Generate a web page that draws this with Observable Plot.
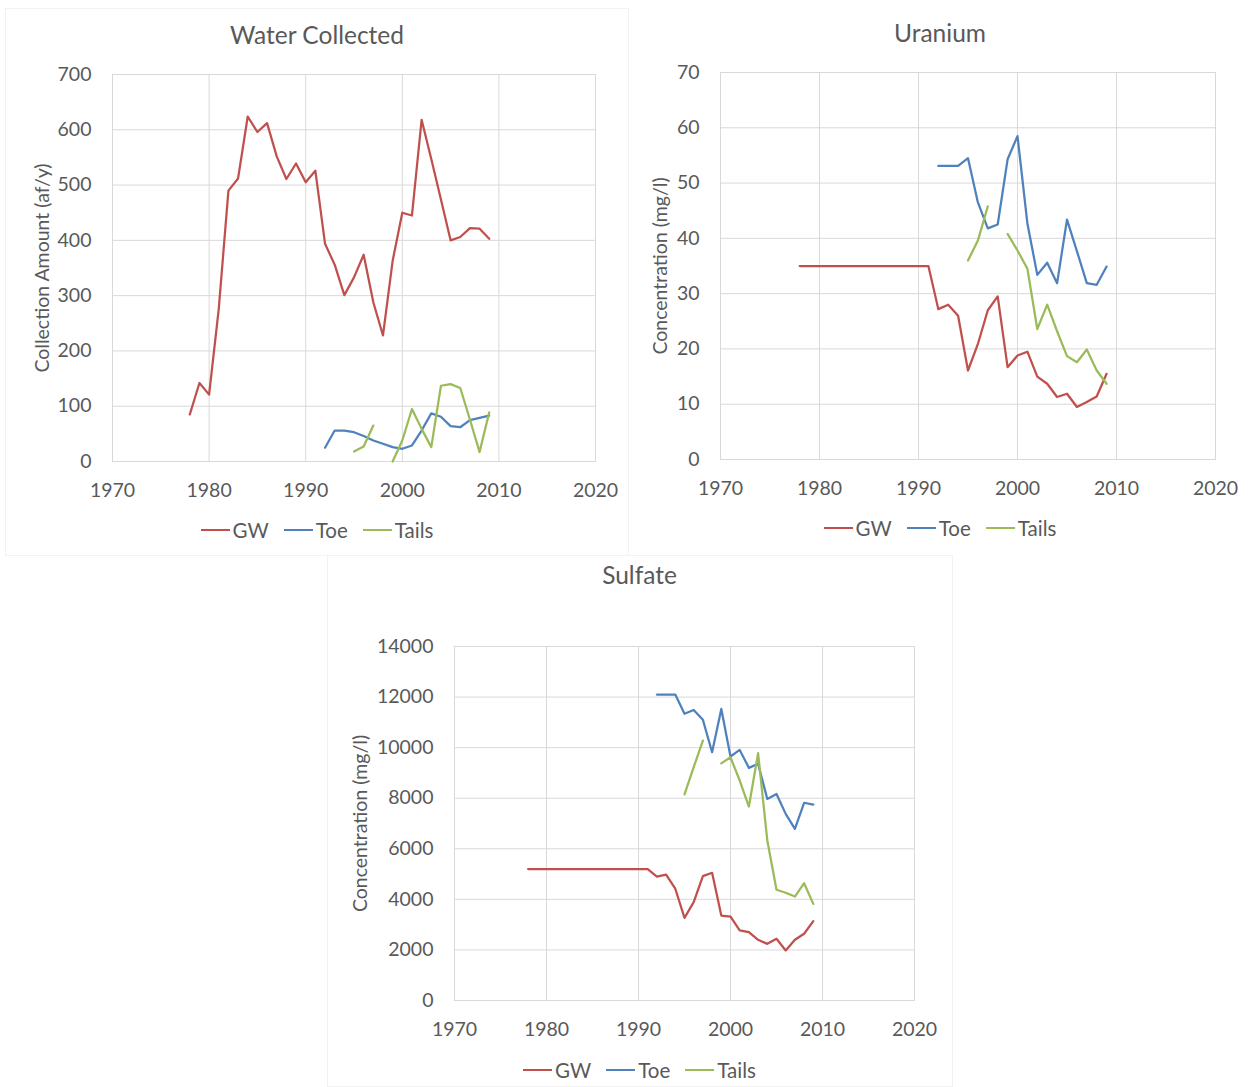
<!DOCTYPE html>
<html>
<head>
<meta charset="utf-8">
<script src="https://cdn.jsdelivr.net/npm/d3@7"></script>
<script src="https://cdn.jsdelivr.net/npm/@observablehq/plot@0.6"></script>
<style>
  html, body { margin: 0; padding: 0; background: #ffffff; }
  body { width: 1249px; height: 1087px; position: relative; overflow: hidden; font-family: Lato, "Open Sans", sans-serif; color: #595959; }
  .panel { position: absolute; }
  .border { position: absolute; border: 1px solid #f2f2f2; box-sizing: border-box; }
  .title { position: absolute; left: 0; right: 0; text-align: center; font-size: 24.5px; height: 40px; line-height: 40px; }
  .chart { position: absolute; left: 0; }
  .legend { position: absolute; left: 0; right: 0; display: flex; justify-content: center; align-items: center; font-size: 20.5px; height: 40px; }
  .legend .item { display: flex; align-items: center; margin: 0 7.5px; }
  .legend .swatch { width: 29px; height: 2.25px; margin-right: 3px; }
</style>
</head>
<body>
<div class="border" style="left:5px;top:8px;width:624px;height:548px;"></div>
<div class="border" style="left:327px;top:555px;width:626px;height:532px;"></div>
<div id="root"></div>
<script>
// ---------- data ----------
const years = [1978,1979,1980,1981,1982,1983,1984,1985,1986,1987,1988,1989,1990,1991,1992,1993,1994,1995,1996,1997,1998,1999,2000,2001,2002,2003,2004,2005,2006,2007,2008,2009];
const seriesNames = ["GW", "Toe", "Tails"];
const seriesColors = ["#C0504D", "#4F81BD", "#9BBB59"];
const xTicks = [1970, 1980, 1990, 2000, 2010, 2020];

// Water Collected (af/y)
const waterGW    = [85,142,121,276,490,512,624,596,612,552,511,539,505,526,394,356,301,333,374,288,228,363,450,445,618,547,474,400,406,422,421,403];
const waterToe   = [null,null,null,null,null,null,null,null,null,null,null,null,null,null,25,56,56,53,46,38,32,26,23,29,56,87,81,64,62,75,79,83];
const waterTails = [null,null,null,null,null,null,null,null,null,null,null,null,null,null,null,null,null,18,27,65,null,0,38,95,59,26,137,140,133,76,17,89];
const waterTicks = [0,100,200,300,400,500,600,700];

// Uranium (mg/l)
const uranGW    = [35,35,35,35,35,35,35,35,35,35,35,35,35,35,27.2,28,26,16.1,20.9,27,29.5,16.7,18.8,19.5,15,13.7,11.3,11.9,9.5,10.4,11.4,15.5];
const uranToe   = [null,null,null,null,null,null,null,null,null,null,null,null,null,null,53.1,53.1,53.1,54.5,46.5,41.8,42.5,54.3,58.5,42.7,33.4,35.6,31.9,43.4,37.7,31.9,31.6,34.9];
const uranTails = [null,null,null,null,null,null,null,null,null,null,null,null,null,null,null,null,null,36,39.6,45.8,null,40.8,37.8,34.5,23.6,28,23.2,18.7,17.6,19.9,16.1,13.7];
const uranTicks = [0,10,20,30,40,50,60,70];

// Sulfate (mg/l)
const sulfGW    = [5200,5200,5200,5200,5200,5200,5200,5200,5200,5200,5200,5200,5200,5200,4900,4980,4420,3270,3890,4920,5050,3360,3320,2770,2700,2400,2240,2440,1980,2400,2640,3140];
const sulfToe   = [null,null,null,null,null,null,null,null,null,null,null,null,null,null,12100,12100,12100,11340,11490,11100,9820,11530,9650,9910,9200,9360,7970,8170,7380,6790,7820,7750];
const sulfTails = [null,null,null,null,null,null,null,null,null,null,null,null,null,null,null,null,null,8150,9230,10280,null,9380,9620,8700,7670,9780,6330,4380,4260,4110,4640,3820];
const sulfTicks = [0,2000,4000,6000,8000,10000,12000,14000];

// ---------- drawing ----------
function toRows(gw, toe, tails) {
  const rows = [];
  const cols = [gw, toe, tails];
  cols.forEach((arr, s) => {
    years.forEach((yr, i) => rows.push({year: yr, series: seriesNames[s], value: arr[i]}));
  });
  return rows;
}

function makePanel(cfg) {
  const panel = document.createElement("div");
  panel.className = "panel";
  panel.style.left = cfg.left + "px";
  panel.style.top = cfg.top + "px";
  panel.style.width = cfg.width + "px";
  panel.style.height = (cfg.legendTop + 40) + "px";

  const t = document.createElement("div");
  t.className = "title";
  t.style.top = cfg.titleTop + "px";
  t.textContent = cfg.title;
  panel.appendChild(t);

  const data = toRows(cfg.gw, cfg.toe, cfg.tails);
  const chart = Plot.plot({
    width: cfg.width,
    height: cfg.height,
    marginLeft: cfg.ml, marginRight: cfg.mr, marginTop: cfg.mt, marginBottom: cfg.mb,
    style: {fontFamily: "Lato, 'Open Sans', sans-serif", fontSize: "19.5px", color: "#595959", background: "transparent", overflow: "visible"},
    x: {domain: [1970, 2020], ticks: xTicks, tickFormat: "d", tickSize: 0, tickPadding: 22, label: null},
    y: {domain: [cfg.yTicks[0], cfg.yTicks[cfg.yTicks.length - 1]], ticks: cfg.yTicks, tickFormat: "d", tickSize: 0, tickPadding: 21,
        label: cfg.yLabel, labelAnchor: "center", labelArrow: "none", labelOffset: cfg.labelOffset},
    color: {domain: seriesNames, range: seriesColors},
    marks: [
      Plot.gridX(xTicks, {stroke: "#d9d9d9", strokeOpacity: 1, strokeWidth: 1}),
      Plot.gridY(cfg.yTicks, {stroke: "#d9d9d9", strokeOpacity: 1, strokeWidth: 1}),
      Plot.frame({stroke: "#d9d9d9", strokeWidth: 1}),
      Plot.lineY(data, {x: "year", y: "value", z: "series", stroke: "series", strokeWidth: 2.25, strokeLinejoin: "round"})
    ]
  });
  chart.classList.add("chart");
  chart.style.position = "absolute";
  chart.style.top = cfg.chartTop + "px";
  chart.style.left = "0px";
  panel.appendChild(chart);

  const lg = document.createElement("div");
  lg.className = "legend";
  lg.style.top = cfg.legendTop + "px";
  seriesNames.forEach((name, i) => {
    const it = document.createElement("div");
    it.className = "item";
    const sw = document.createElement("span");
    sw.className = "swatch";
    sw.style.background = seriesColors[i];
    const tx = document.createElement("span");
    tx.textContent = name;
    it.appendChild(sw); it.appendChild(tx);
    lg.appendChild(it);
  });
  panel.appendChild(lg);
  document.getElementById("root").appendChild(panel);
}

// Water Collected: plot area x 112-595, y 74-461
makePanel({
  title: "Water Collected", yLabel: "Collection Amount (af/y)",
  left: 4, top: 0, width: 626, titleTop: 15, chartTop: 55, height: 455,
  ml: 108, mr: 35, mt: 19, mb: 49, labelOffset: 77, legendTop: 510,
  yTicks: waterTicks, gw: waterGW, toe: waterToe, tails: waterTails
});

// Uranium: plot area x 720-1215, y 72-459
makePanel({
  title: "Uranium", yLabel: "Concentration (mg/l)",
  left: 636, top: 0, width: 608, titleTop: 13, chartTop: 55, height: 455,
  ml: 84, mr: 29, mt: 17, mb: 51, labelOffset: 67, legendTop: 508,
  yTicks: uranTicks, gw: uranGW, toe: uranToe, tails: uranTails
});

// Sulfate: plot area x 454-914, y 646-1000
makePanel({
  title: "Sulfate", yLabel: "Concentration (mg/l)",
  left: 327, top: 555, width: 625, titleTop: 0, chartTop: 42, height: 451,
  ml: 127, mr: 38, mt: 49, mb: 48, labelOffset: 101, legendTop: 495,
  yTicks: sulfTicks, gw: sulfGW, toe: sulfToe, tails: sulfTails
});
</script>
</body>
</html>
